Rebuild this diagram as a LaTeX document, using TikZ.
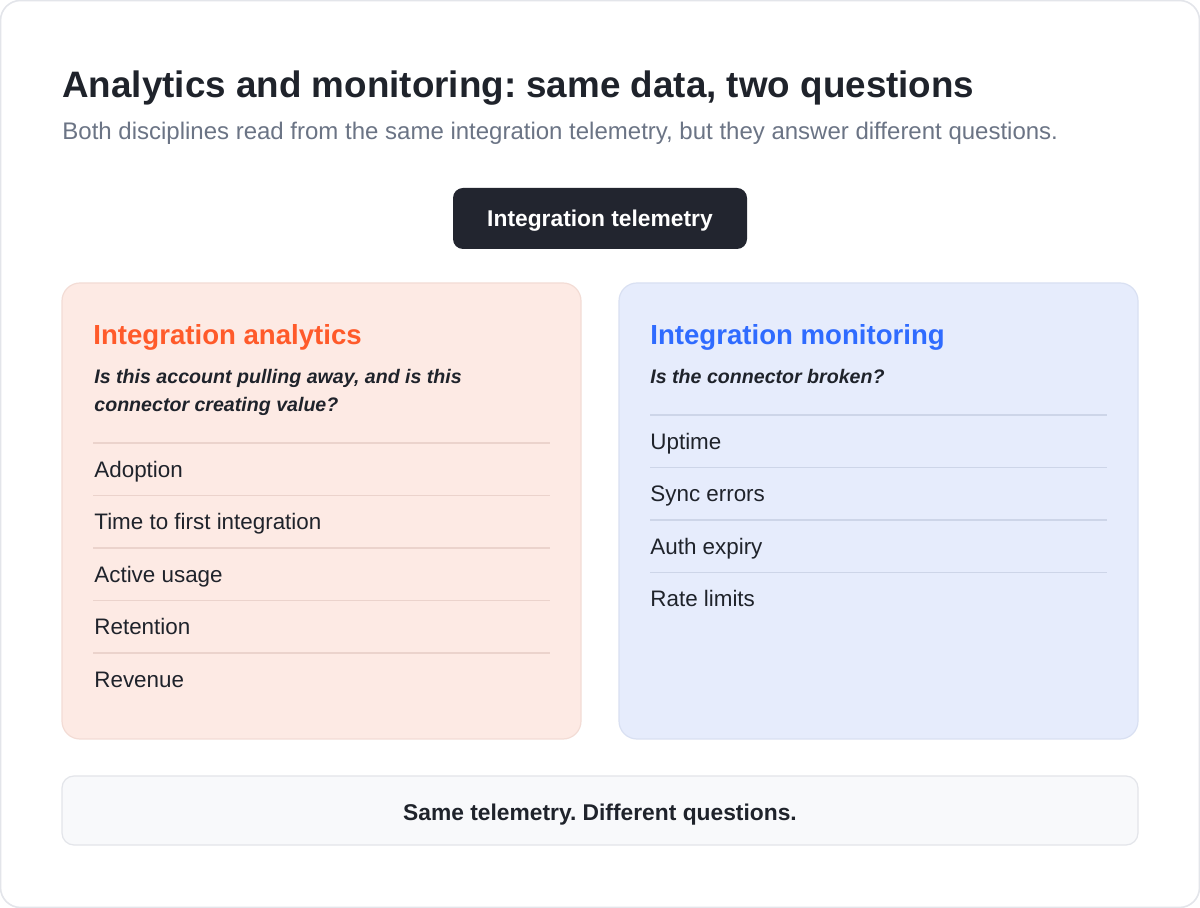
\documentclass[tikz,border=0pt]{standalone}
\usepackage{fontspec}
\setmainfont{Liberation Sans}
\usetikzlibrary{positioning}
\frenchspacing

\definecolor{ink}{HTML}{1F232B}
\definecolor{subgray}{HTML}{6B7485}
\definecolor{darkbox}{HTML}{22252F}
\definecolor{frameline}{HTML}{E3E5EA}
\definecolor{peachfill}{HTML}{FDEAE4}
\definecolor{peachline}{HTML}{F3DCD5}
\definecolor{peachsep}{HTML}{EBD3CC}
\definecolor{bluefill}{HTML}{E6ECFC}
\definecolor{blueline}{HTML}{D9E0F2}
\definecolor{bluesep}{HTML}{CDD5E8}
\definecolor{orangehead}{HTML}{FF5A2A}
\definecolor{bluehead}{HTML}{2F6BFF}
\definecolor{notefill}{HTML}{F8F9FB}

\tikzset{
  txt/.style={inner sep=0pt, text=ink},
  heading/.style={txt, anchor=base west, font=\bfseries\fontsize{13.8}{16}\selectfont},
  question/.style={txt, anchor=base west, font=\bfseries\itshape\fontsize{9.8}{14}\selectfont},
  metric/.style={txt, anchor=base west, font=\fontsize{11.2}{13}\selectfont},
  sepA/.style={peachsep, line width=0.6pt},
  sepB/.style={bluesep, line width=0.6pt},
}

\begin{document}
\begin{tikzpicture}[x=0.5pt,y=-0.5pt]
\useasboundingbox (0,0) rectangle (1200,908);
\draw[frameline, fill=white, line width=0.8pt, rounded corners=10pt] (0.5,0.5) rectangle (1199.5,907.5);

% title
\node[txt, anchor=base west, font=\bfseries\fontsize{18.4}{22}\selectfont] (title) at (62,98) {Analytics and monitoring: same data, two questions};
\node[txt, anchor=base west, text=subgray, font=\fontsize{12}{14}\selectfont] (subtitle) at (62,140) {Both disciplines read from the same integration telemetry, but they answer different questions.};

% source
\node[fill=darkbox, text=white, rounded corners=5pt, minimum width=147pt, minimum height=30.5pt, inner sep=0pt, text height=8.2pt, text depth=0pt, font=\bfseries\fontsize{11.4}{13}\selectfont] (telemetry) at (600,218.5) {Integration telemetry};

% analytics panel
\draw[peachline, fill=peachfill, line width=0.6pt, rounded corners=9pt] (62,283) rectangle (581,739);
\node[heading, text=orangehead] (anahead) at (93,345) {Integration analytics};
\node[question] (anaq1) at (94,384) {Is this account pulling away, and is this};
\node[question] (anaq2) at (94,412) {connector creating value?};
\foreach \txt [count=\i] in {Adoption, Time to first integration, Active usage, Retention, Revenue} {
  \draw[sepA] (93,{443+52.5*(\i-1)}) -- (550,{443+52.5*(\i-1)});
  \node[metric] (ana\i) at (94,{477.5+52.5*(\i-1)}) {\txt};
}

% monitoring panel
\draw[blueline, fill=bluefill, line width=0.6pt, rounded corners=9pt] (619,283) rectangle (1138,739);
\node[heading, text=bluehead] (monhead) at (650,345) {Integration monitoring};
\node[question] (monq) at (650,383.5) {Is the connector broken?};
\foreach \txt [count=\i] in {Uptime, Sync errors, Auth expiry, Rate limits} {
  \draw[sepB] (650,{415+52.5*(\i-1)}) -- (1107,{415+52.5*(\i-1)});
  \node[metric] (mon\i) at (650,{449.5+52.5*(\i-1)}) {\txt};
}

% summary
\draw[frameline, fill=notefill, line width=0.6pt, rounded corners=6pt] (62,776) rectangle (1138,845);
\node[txt, anchor=base, font=\bfseries\fontsize{11.4}{13}\selectfont] (summary) at (600,820) {Same telemetry. Different questions.};

\end{tikzpicture}
\end{document}
